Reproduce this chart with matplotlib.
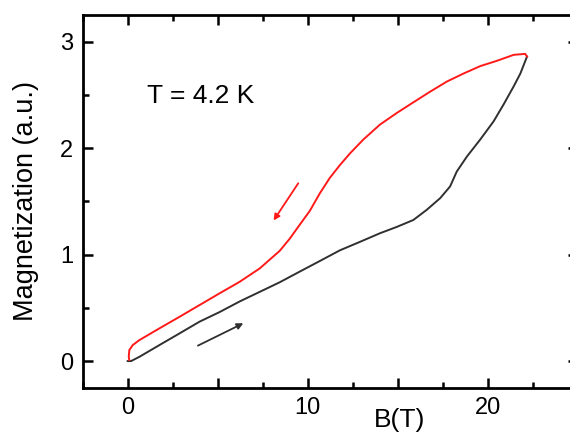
import matplotlib
matplotlib.use("Agg")
import matplotlib.pyplot as plt
from matplotlib.ticker import MultipleLocator, FixedFormatter, FixedLocator

plt.rcParams['font.family'] = ['Liberation Sans', 'DejaVu Sans']

# Up sweep (black)
b_up = [0.0, 0.19, 0.65, 1.76, 2.88, 3.99, 5.1, 6.22, 7.33, 8.44, 9.55, 10.67, 11.78,
        12.9, 14.0, 14.94, 15.86, 16.6, 17.35, 17.9, 18.27, 18.83, 19.57, 20.31, 20.87,
        21.43, 21.8, 22.17]
m_up = [0.0, 0.0, 0.04, 0.15, 0.26, 0.37, 0.46, 0.56, 0.65, 0.74, 0.84, 0.94, 1.04,
        1.12, 1.20, 1.26, 1.325, 1.42, 1.53, 1.64, 1.78, 1.92, 2.08, 2.25, 2.41,
        2.58, 2.70, 2.86]

# Down sweep (red)
b_down = [22.17, 22.07, 21.43, 20.5, 19.57, 18.64, 17.72, 16.79, 15.86, 14.94, 14.0,
          13.08, 12.34, 11.78, 11.22, 10.67, 10.11, 9.55, 9.0, 8.44, 7.33, 6.22, 5.1,
          3.99, 2.88, 1.76, 0.65, 0.28, 0.09, 0.06, 0.09]
m_down = [2.86, 2.885, 2.876, 2.82, 2.77, 2.70, 2.625, 2.53, 2.43, 2.33, 2.22,
          2.08, 1.95, 1.84, 1.72, 1.576, 1.41, 1.28, 1.15, 1.035, 0.87, 0.745, 0.636,
          0.526, 0.416, 0.307, 0.197, 0.15, 0.103, 0.04, 0.01]

# Arrows: (tail, head)
arrow_up = [(3.9, 0.145), (6.42, 0.355)]
arrow_down = [(9.47, 1.67), (8.1, 1.32)]

x_ticks = [0, 5, 10, 15, 20]
x_ticklabels = ['0', '', '10', '', '20']
y_ticks = [0, 1, 2, 3]
y_ticklabels = ['0', '1', '2', '3']

fig = plt.figure(figsize=(5.7, 4.34), dpi=100)
ax = fig.add_axes([0.145, 0.1067, 0.869, 0.8587])

ax.plot(b_up, m_up, color='#303030', lw=1.4, solid_joinstyle='round')
ax.plot(b_down, m_down, color='#ff1a1a', lw=1.4, solid_joinstyle='round')

ax.annotate('', xy=arrow_up[1], xytext=arrow_up[0],
            arrowprops=dict(arrowstyle='-|>', color='#303030', lw=1.3, mutation_scale=9,
                            shrinkA=0, shrinkB=0))
ax.annotate('', xy=arrow_down[1], xytext=arrow_down[0],
            arrowprops=dict(arrowstyle='-|>', color='#ff1a1a', lw=1.3, mutation_scale=9,
                            shrinkA=0, shrinkB=0))

ax.text(1.05, 2.49, 'T = 4.2 K', fontsize=19, ha='left', va='center')

ax.set_xlim(-2.5, 25)
ax.set_ylim(-0.25, 3.25)
ax.xaxis.set_major_locator(FixedLocator(x_ticks))
ax.xaxis.set_major_formatter(FixedFormatter(x_ticklabels))
ax.xaxis.set_minor_locator(MultipleLocator(2.5))
ax.yaxis.set_major_locator(FixedLocator(y_ticks))
ax.yaxis.set_major_formatter(FixedFormatter(y_ticklabels))
ax.yaxis.set_minor_locator(MultipleLocator(0.5))

ax.tick_params(which='both', direction='in', top=True, right=True, width=1.8, labelsize=17)
ax.tick_params(which='major', length=7, pad=7)
ax.tick_params(which='minor', length=4)
for s in ax.spines.values():
    s.set_linewidth(2.0)

ax.set_ylabel('Magnetization (a.u.)', fontsize=19.5)
ax.yaxis.set_label_coords(-0.089, 0.5)
ax.set_xlabel('B(T)', fontsize=19)
ax.xaxis.set_label_coords(0.64, -0.055)

fig.savefig('out.png', dpi=100)
